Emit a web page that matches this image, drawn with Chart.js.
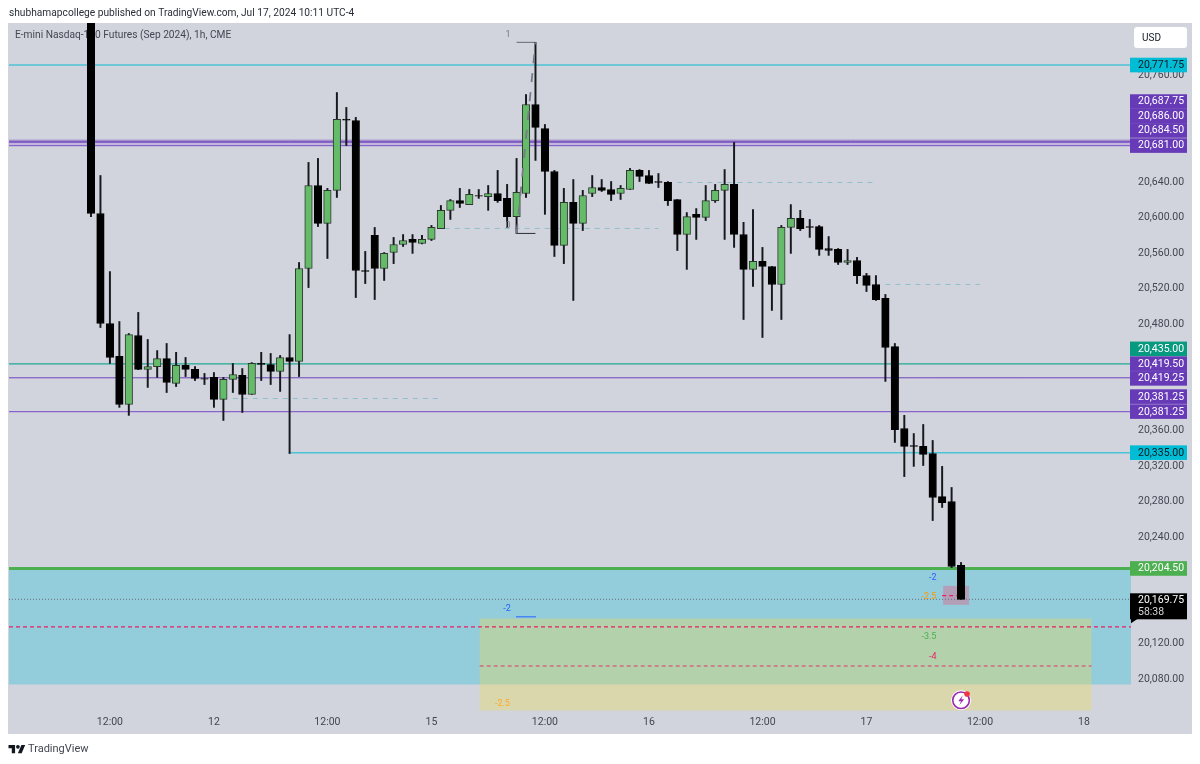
<!DOCTYPE html>
<html>
<head>
<meta charset="utf-8">
<style>html,body{margin:0;padding:0;background:#fff}canvas{display:block}</style>
<script src="https://cdn.jsdelivr.net/npm/chart.js@4/dist/chart.umd.min.js"></script>
</head>
<body>
<div style="width:1200px;height:764px"><canvas id="c" width="1200" height="764"></canvas></div>
<script>
const opens = [20860,20604.5,20480.5,20443.5,20389.25,20467,20428.75,20432,20441,20413,20433.25,20428.75,20418.5,20419.75,20395,20417.5,20422,20400.5,20435.5,20434.25,20426.5,20442.25,20437.75,20542.5,20636,20593.25,20630.5,20710.5,20709.25,20540.25,20579.75,20542.5,20560.5,20569.5,20575.25,20570.75,20575.25,20587.5,20608,20619,20614.5,20624.75,20623.5,20627,20621.5,20601,20627,20727.25,20700.25,20651.75,20568.5,20617,20593.25,20627,20633.75,20631.5,20627,20631.5,20653,20647.25,20640.5,20639.5,20620.25,20580.75,20603.5,20600,20619,20630.5,20637.25,20580.75,20541.5,20550.5,20544.75,20524.5,20588.75,20599,20589.75,20589.75,20565,20564,20549.25,20551.5,20534.5,20524.5,20508.75,20454.5,20362.25,20343,20342,20334,20285.5,20280,20208];
const highs = [20870,20647.25,20539,20482.75,20469.25,20493,20462.5,20450,20458,20448,20442.25,20432,20424.25,20425.25,20419.75,20435.5,20429.75,20436.5,20448,20446.75,20444.5,20468,20549.25,20662,20666.5,20632.75,20740.75,20724,20712.75,20561.75,20588.75,20560.5,20577.5,20580.75,20580.75,20579.75,20591,20613.5,20620.25,20632.75,20631.5,20631.5,20636,20653,20637.25,20666.5,20738.5,20797.25,20704.75,20653,20632.75,20642.75,20630.5,20647.25,20642.75,20640.5,20636,20655.25,20654,20653,20649.5,20640.5,20620.25,20605.5,20610,20636,20637.25,20654,20684.5,20594.5,20609,20566.25,20544.75,20591,20614.5,20608,20597.75,20591,20578.5,20565,20564,20555,20537,20534.5,20513.25,20458,20377,20356.5,20366.75,20348.75,20319.5,20295.75,20211.25];
const lows = [20601,20476,20435.5,20386,20377,20428.5,20408.5,20419.75,20402.75,20409.5,20420.75,20416.25,20411.75,20386,20371.25,20402.75,20380.25,20400.5,20416.25,20411.75,20404,20334,20420.75,20521,20589.75,20553.75,20622.5,20681,20509.75,20525.5,20507.5,20529,20548,20567.25,20559.5,20570.25,20574,20587.5,20597.75,20611.25,20614.5,20621.5,20608,20617,20588.75,20582,20622.5,20664.25,20603.5,20556,20548,20506.5,20585.25,20623.5,20629.25,20619,20620.25,20631.5,20640.5,20638.25,20633.75,20613.5,20562.75,20541.5,20575.25,20596.5,20617,20575.25,20566.25,20485,20522.25,20464.75,20495.25,20485,20559.5,20585.25,20577.5,20557.25,20557.25,20547,20547,20525.5,20516.5,20506.5,20415.25,20346.5,20308,20319.5,20320.5,20258.5,20273.25,20205.5,20169.75];
const closes = [20604.5,20480.5,20442.25,20389.25,20468,20428.75,20432,20441,20414,20433.25,20428.75,20418.5,20417.75,20395,20417.5,20423,20400.5,20435.5,20434.5,20426.5,20442.25,20437.75,20542.5,20636,20593.25,20630.5,20710.5,20709.5,20540.25,20539.25,20542.5,20559.5,20569.5,20574,20571.75,20575.25,20588.75,20608,20619,20615.75,20626,20624,20627,20619,20601,20628.25,20727.25,20701.5,20651.75,20568.5,20617,20593.25,20624.75,20633.75,20630.5,20626,20632.75,20653,20646.25,20638.25,20639.5,20619,20580.75,20601,20600,20619,20630.5,20637.25,20580.75,20541.5,20550.5,20544.75,20524.5,20588.75,20599,20587.5,20588.75,20564,20562.75,20549.25,20551.5,20534.5,20523.5,20507.5,20453.5,20361,20342,20342,20333,20284.5,20278.75,20206.75,20169.75];

const xTickIndex = [2,13,25,36,48,59,71,82,94,105];
const xTickLabels = ["12:00","12","12:00","15","12:00","16","12:00","17","12:00","18"];
const yTicks = [20760,20640,20600,20560,20520,20480,20360,20320,20280,20240,20120,20080];

const levelCyanTop = 20771.75;
const levelPurpleFaint = 20687.75;
const levelPurpleDark = 20686;
const levelsPurpleLight = [20684.5,20681,20381.25];
const levelsPurplePair = [20419.5,20419.25];
const levelTeal = 20435;
const levelCyanLow = 20335;
const levelGreen = 20204.5;
const lastPrice = 20169.75;
const pinkLevels = [20138.6,20094.6,20174];
const faintLevels = [20396,20587.6,20639.4,20524.5];
const faintFrom = [15,37.4,62,84];
const faintTo = [36.9,60,83,94];

const tagPrices = [20771.75,20687.75,20686,20684.5,20681,20435,20419.5,20419.25,20381.25,20381.25,20335,20204.5];
const tagNudges = [0,-38,-25,-12,0,-15,-14,0.5,-15,0,0,0];
const tagFills = ["#00bcd4","#673ab7","#673ab7","#673ab7","#673ab7","#089981","#673ab7","#673ab7","#673ab7","#673ab7","#00bcd4","#4caf50"];
const tagInks = ["#131722","#fff","#fff","#fff","#fff","#fff","#fff","#fff","#fff","#fff","#131722","#fff"];

const noteTexts = ["-2","-2.5","-2","-2.5","-3.5","-4","1","0"];
const noteIndex = [44,43.5,89,88.6,88.6,89,44.1,44.1];
const notePrices = [20159.4,20052.4,20194.3,20172.9,20127.9,20105,20806.2,20591];
const noteColors = ["#2962ff","#ffa726","#2962ff","#ff9800","#4caf50","#e91e63","#787b86","#787b86"];

const X_MIN = -8.67, X_MAX = 109.97, Y_MIN = 20043.9, Y_MAX = 20819.1;
const fmt = v => v.toLocaleString("en-US",{minimumFractionDigits:2,maximumFractionDigits:2});
const FONT = 'Roboto, sans-serif';

function hline(price, from, to, color, width, dash, order){
  return {type:"line",data:[{x:from,y:price},{x:to,y:price}],borderColor:color,borderWidth:width,borderDash:dash||[],pointRadius:0,order:order===undefined?5:order,fill:false};
}
const idx = opens.map((_,i)=>i);
const wickData = idx.map(i=>({x:i,y:[lows[i],highs[i]]}));
const bodyData = idx.map(i=>({x:i,y:[Math.min(opens[i],closes[i]),Math.max(opens[i],closes[i])]}));
const bodyFill = idx.map(i=>closes[i]>opens[i]?"#66bb6a":"#000");
const bodyEdge = idx.map(i=>closes[i]>opens[i]?"#2b3a2d":"#000");

const datasets = [
  {type:"bar",data:wickData,backgroundColor:"#16181d",barThickness:1.3,grouped:false,order:3},
  {type:"bar",data:bodyData,backgroundColor:bodyFill,borderColor:bodyEdge,borderWidth:1,borderSkipped:false,barThickness:7.5,grouped:false,order:2},
  hline(levelCyanTop,X_MIN,X_MAX,"#4cc3d6",1.5),
  hline(levelPurpleFaint,X_MIN,X_MAX,"rgba(103,58,183,.2)",1),
  hline(levelPurpleDark,X_MIN,X_MAX,"#5a22b5",1),
  ...levelsPurpleLight.map(p=>hline(p,X_MIN,X_MAX,"#8a63cc",1.4)),
  ...levelsPurplePair.map(p=>hline(p,X_MIN,X_MAX,"rgba(126,87,194,.75)",1)),
  hline(levelTeal,X_MIN,X_MAX,"#1fa893",1.2),
  hline(levelCyanLow,21,X_MAX,"#4cc3d6",1.5),
  hline(levelGreen,X_MIN,X_MAX,"#4caf50",3),
  hline(lastPrice,X_MIN,X_MAX,"#6a6d78",1,[1,2]),
  hline(pinkLevels[0],X_MIN,X_MAX,"#e91e63",1.2,[4,3]),
  hline(pinkLevels[1],41.1,105.8,"#e0386f",1.2,[4,3]),
  hline(pinkLevels[2],90,91.6,"#e91e63",1.2,[4,3]),
  hline(20150,44.94,47.05,"#2962ff",1),
  ...faintLevels.map((p,i)=>hline(p,faintFrom[i],faintTo[i],"rgba(95,175,190,.55)",1,[5,5])),
  hline(20797.25,45,47,"#787b86",1.2,[],4),
  hline(20582,45,47,"#2a2e39",1,[],4),
  {type:"line",data:[{x:45,y:20582},{x:47,y:20797.25}],borderColor:"#787b86",borderWidth:1.8,borderDash:[9,10],pointRadius:0,order:1,fill:false}
];

const paint = {
  id:"paint",
  beforeDraw(ch){
    const c=ch.ctx;
    c.save();
    c.fillStyle="#fff";c.fillRect(0,0,1200,764);
    c.fillStyle="#d1d4dc";c.fillRect(8,23,1184,711);
    c.restore();
  },
  beforeDatasetsDraw(ch){
    const c=ch.ctx,x=ch.scales.x,y=ch.scales.y;
    const box=(x0,x1,p0,p1,f)=>{c.fillStyle=f;c.fillRect(x.getPixelForValue(x0),y.getPixelForValue(p0),x.getPixelForValue(x1)-x.getPixelForValue(x0),y.getPixelForValue(p1)-y.getPixelForValue(p0));};
    c.save();
    c.beginPath();c.rect(ch.chartArea.left,ch.chartArea.top,ch.chartArea.width,ch.chartArea.height);c.clip();
    box(X_MIN,X_MAX,20204.5,20073.8,"#93ccdb");
    box(41.1,105.8,20148.1,20044.5,"rgba(241,224,82,.34)");
    box(90.1,92.85,20184.9,20163.5,"rgba(200,130,160,.6)");
    c.font='10.2px '+FONT;c.fillStyle="#434651";c.textBaseline="middle";c.textAlign="left";
    c.fillText("E-mini Nasdaq-100 Futures (Sep 2024), 1h, CME",15,35);
    c.restore();
  },
  afterDraw(ch){
    const c=ch.ctx,x=ch.scales.x,y=ch.scales.y;
    c.save();
    c.textBaseline="middle";c.textAlign="left";
    c.font='9px '+FONT;c.textAlign="center";
    noteTexts.forEach((t,i)=>{c.fillStyle=noteColors[i];c.fillText(t,x.getPixelForValue(noteIndex[i]),y.getPixelForValue(notePrices[i]));});
    c.textAlign="left";

    // icon
    const ix=x.getPixelForValue(92),iy=y.getPixelForValue(20056);
    c.beginPath();c.arc(ix,iy,10,0,Math.PI*2);c.fillStyle="#fff";c.fill();
    c.beginPath();c.arc(ix,iy,8.3,0,Math.PI*2);c.strokeStyle="#9c27b0";c.lineWidth=1.6;c.stroke();
    c.beginPath();c.moveTo(ix+1.7,iy-5);c.lineTo(ix-2.8,iy+0.9);c.lineTo(ix,iy+0.9);c.lineTo(ix-1.7,iy+5);c.lineTo(ix+3.1,iy-1.1);c.lineTo(ix+0.2,iy-1.1);c.closePath();c.fillStyle="#9c27b0";c.fill();
    c.beginPath();c.arc(ix+6,iy-6.2,2.8,0,Math.PI*2);c.fillStyle="#f23645";c.fill();

    // price tags
    c.font='10.5px '+FONT;
    tagPrices.forEach((p,i)=>{
      const yy=y.getPixelForValue(p)+tagNudges[i];
      c.fillStyle=tagFills[i];c.fillRect(1130,yy-7.3,57,14.6);
      c.fillStyle=tagInks[i];c.fillText(fmt(p),1138,yy+0.3);
    });
    // last price tag
    const ly=y.getPixelForValue(lastPrice);
    c.fillStyle="#000";c.fillRect(1130,ly-6,57,26);
    c.beginPath();c.moveTo(1131,ly+14);c.lineTo(1137,ly+20);c.lineTo(1131,ly+24);c.closePath();c.fill();
    c.fillStyle="#fff";c.fillText(fmt(lastPrice),1138,ly+1);
    c.fillStyle="#d6d6d6";c.fillText("58:38",1138,ly+13);

    // currency button
    c.fillStyle="#fff";c.beginPath();c.roundRect(1134,27,53,21,3);c.fill();
    c.fillStyle="#131722";c.font='10px '+FONT;c.fillText("USD",1142,38);

    // header and footer
    c.fillStyle="#2a2e39";c.font='10.2px '+FONT;
    c.fillText("shubhamapcollege published on TradingView.com, Jul 17, 2024 10:11 UTC-4",9,13);
    c.fillStyle="#434651";c.font='11px '+FONT;c.fillText("TradingView",28,749);
    c.save();c.translate(8.5,743);c.scale(.47,.47);c.fillStyle="#131722";
    c.fill(new Path2D("M14 22H7V11H0V4h14v18zM28 22h-8l7.5-18h8L28 22z"));
    c.beginPath();c.arc(20,8,4,0,Math.PI*2);c.fill();
    c.restore();
    c.restore();
  }
};

new Chart(document.getElementById("c"),{
  data:{datasets},
  plugins:[paint],
  options:{
    responsive:false,animation:false,devicePixelRatio:1,
    layout:{padding:{left:9,top:23,right:0,bottom:0}},
    plugins:{legend:{display:false},tooltip:{enabled:false}},
    events:[],
    scales:{
      x:{type:"linear",min:X_MIN,max:X_MAX,offset:false,
        grid:{display:false,drawTicks:false},border:{display:false},
        afterBuildTicks:s=>{s.ticks=xTickIndex.map(v=>({value:v}));},
        afterFit:s=>{s.height=53;},
        ticks:{autoSkip:false,maxRotation:0,padding:5,color:"#434651",font:{family:FONT,size:10.5},
          callback:(v)=>xTickLabels[xTickIndex.indexOf(v)]}},
      y:{type:"linear",position:"right",min:Y_MIN,max:Y_MAX,
        grid:{display:false,drawTicks:false},border:{display:false},
        afterBuildTicks:s=>{s.ticks=yTicks.map(v=>({value:v}));},
        afterFit:s=>{s.width=69;},
        ticks:{autoSkip:false,padding:7,color:"#434651",font:{family:FONT,size:10.5},
          callback:v=>fmt(v)}}
    }
  }
});
</script>
</body>
</html>
